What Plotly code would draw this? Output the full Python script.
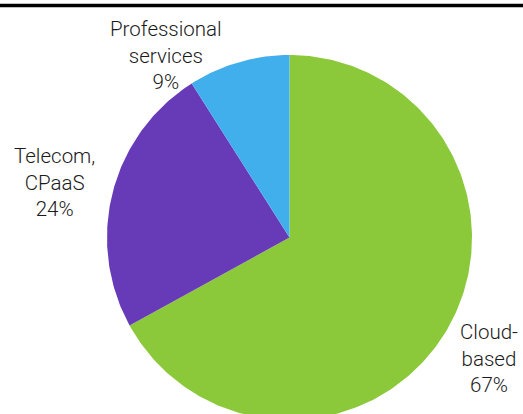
import numpy as np
import plotly.graph_objects as go

# Share of revenue by segment
segments = ["Cloud-<br>based", "Telecom,<br>CPaaS", "Professional<br>services"]
shares = [67, 24, 9]
colors = ["#8cc93a", "#673ab7", "#42afed"]

W, H = 523, 414
cx, cy, r = 289.5, H - 237.5, 182.5

fig = go.Figure()

# Wedges start at 12 o'clock and run clockwise
total = sum(shares)
edges = np.concatenate([[0], np.cumsum(shares)]) / total * 2 * np.pi
for name, a0, a1, col in zip(segments, edges[:-1], edges[1:], colors):
    t = np.linspace(a0, a1, max(int((a1 - a0) / (2 * np.pi) * 400), 8))
    xs = np.concatenate([[cx], cx + r * np.sin(t), [cx]])
    ys = np.concatenate([[cy], cy + r * np.cos(t), [cy]])
    fig.add_trace(go.Scatter(
        x=xs, y=ys, mode="lines", fill="toself", fillcolor=col,
        line=dict(width=0, color=col), hoverinfo="skip", showlegend=False,
        name=name.replace("<br>", " "),
    ))

# Outside labels for each wedge
label_pos = [(489, H - 358), (54, H - 182), (166, H - 55)]
for name, val, (lx, ly) in zip(segments, shares, label_pos):
    fig.add_annotation(
        x=lx, y=ly, xref="x", yref="y", text=f"{name}<br>{val}%",
        showarrow=False, xanchor="center", yanchor="middle", align="center",
        font=dict(family="Roboto, sans-serif", size=20.5, color="#1a1a1a",
                  weight=300),
    )

# Rule under the heading
fig.add_shape(type="line", xref="paper", yref="paper", x0=0, x1=1,
              y0=(H - 5.5) / H, y1=(H - 5.5) / H,
              line=dict(color="#000000", width=3.5))

fig.update_layout(
    width=W, height=H, margin=dict(l=0, r=0, t=0, b=0),
    paper_bgcolor="white", plot_bgcolor="white",
    xaxis=dict(range=[0, W], visible=False, fixedrange=True),
    yaxis=dict(range=[0, H], visible=False, fixedrange=True),
    showlegend=False,
)

fig.write_html("out.html")
